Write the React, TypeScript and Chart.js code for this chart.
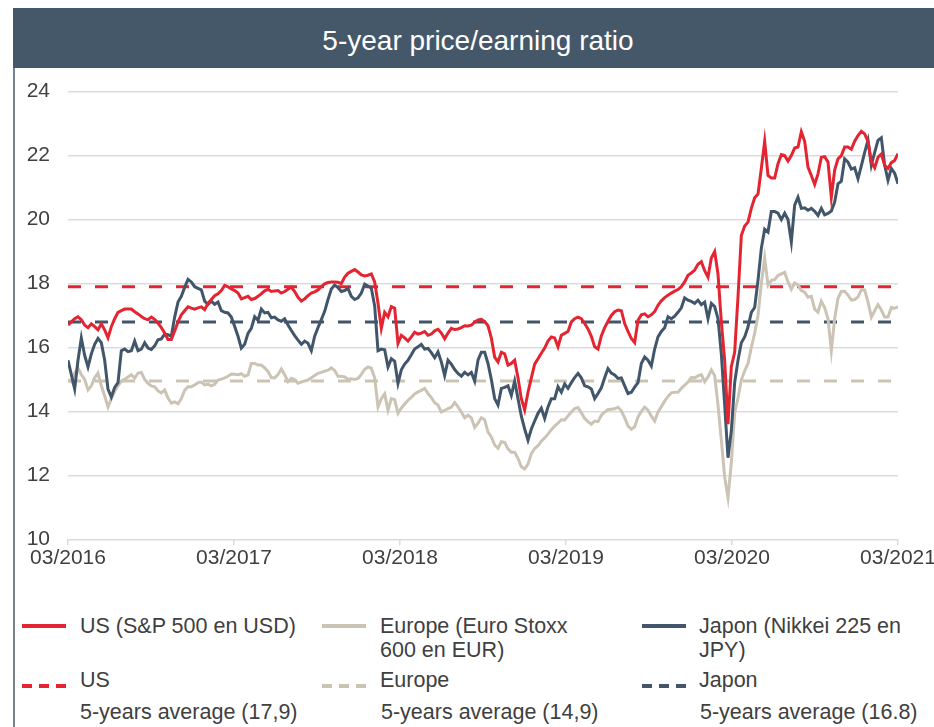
import { useEffect, useRef } from 'react';
import { Chart, registerables } from 'chart.js';

Chart.register(...registerables);

// ---- Data (weekly-ish observations, 03/2016 -> 03/2021) ----
const xTickLabels = ['03/2016', '03/2017', '03/2018', '03/2019', '03/2020', '03/2021'];
const yearsSpan = 5;

const usPE = [
  16.7, 16.8, 16.9, 16.96, 16.87, 16.7, 16.62, 16.74, 16.65, 16.55,
  16.74, 16.55, 16.3, 16.65, 16.9, 17.1, 17.15, 17.2, 17.2, 17.2,
  17.12, 17.05, 16.97, 16.9, 16.87, 16.95, 16.88, 16.76, 16.62, 16.45,
  16.25, 16.25, 16.52, 16.8, 17.02, 17.15, 17.27, 17.23, 17.2, 17.24,
  17.27, 17.18, 17.38, 17.5, 17.62, 17.68, 17.78, 17.94, 17.9, 17.83,
  17.78, 17.7, 17.52, 17.56, 17.6, 17.5, 17.53, 17.6, 17.68, 17.77,
  17.82, 17.75, 17.77, 17.78, 17.7, 17.75, 17.82, 17.89, 17.75, 17.57,
  17.45, 17.52, 17.62, 17.7, 17.74, 17.8, 17.9, 17.99, 18.03, 18.05,
  18.05, 18.04, 18.0, 18.2, 18.32, 18.38, 18.44, 18.36, 18.27, 18.24,
  18.26, 18.3, 18.05, 17.38, 16.6, 17.1, 16.96, 17.28, 17.23, 16.13,
  16.38, 16.3, 16.2, 16.33, 16.48, 16.42, 16.45, 16.5, 16.38, 16.42,
  16.52, 16.57, 16.45, 16.27, 16.45, 16.6, 16.56, 16.58, 16.62, 16.68,
  16.67, 16.7, 16.79, 16.86, 16.88, 16.81, 16.68, 16.3, 15.7, 15.55,
  15.85, 15.8, 15.45, 15.5, 15.6, 15.05, 14.4, 14.05, 14.6, 15.05,
  15.48, 15.65, 15.82, 15.98, 16.2, 16.33, 16.3, 16.02, 16.38, 16.44,
  16.5, 16.8, 16.9, 16.95, 16.9, 16.75, 16.58, 16.35, 16.02, 15.95,
  16.36, 16.62, 16.82, 17.0, 17.12, 17.17, 17.15, 16.75, 16.5, 16.28,
  16.15, 16.85, 17.02, 17.05, 16.96, 17.02, 17.12, 17.32, 17.46, 17.56,
  17.63, 17.7, 17.76, 17.81, 17.9, 18.05, 18.26, 18.33, 18.42, 18.6,
  18.68, 18.4, 18.2, 18.8, 19.0, 18.3, 16.8, 15.6, 13.6, 15.4,
  15.85, 17.58, 19.5, 19.8, 19.92, 20.35, 20.68, 20.8, 21.6, 22.45,
  21.38, 21.3, 21.3, 21.75, 22.03, 22.0, 21.83, 22.0, 22.24, 22.27,
  22.75, 22.45, 21.64, 21.38, 21.1, 21.43, 21.95, 21.97, 21.8, 20.7,
  21.55, 21.9, 22.0, 22.27, 22.27, 22.2, 22.45, 22.63, 22.76, 22.68,
  22.45, 21.8, 21.62, 21.95, 22.05, 21.7, 21.6, 21.78, 21.85, 22.06,
];

const europePE = [
  15.0, 14.93, 15.2, 15.35, 15.15, 15.0, 14.67, 14.8, 15.05, 15.2,
  14.8, 14.48, 14.14, 14.4, 14.63, 14.8, 14.95, 15.0, 15.08, 15.15,
  15.04, 15.2, 15.22, 15.0, 14.88, 14.8, 14.77, 14.64, 14.58, 14.67,
  14.42, 14.26, 14.3, 14.24, 14.4, 14.66, 14.77, 14.77, 14.83, 14.9,
  14.92, 14.83, 14.85, 14.8, 14.85, 14.98, 15.01, 15.05, 15.1, 15.17,
  15.16, 15.15, 15.18, 15.1, 15.14, 15.5, 15.5, 15.45, 15.45, 15.36,
  15.25, 15.06, 15.05, 15.15, 15.33, 15.15, 14.93, 15.04, 15.0, 14.88,
  14.92, 14.95, 14.98, 15.05, 15.12, 15.19, 15.22, 15.26, 15.29, 15.36,
  15.28, 15.1, 15.1, 15.08, 15.0, 15.02, 15.0, 15.03, 15.16, 15.32,
  15.39, 15.35, 15.05, 14.14, 14.4, 14.55, 14.04, 14.4, 14.37, 13.94,
  14.1, 14.23, 14.35, 14.44, 14.55, 14.61, 14.66, 14.72, 14.56, 14.43,
  14.27, 14.2, 13.98, 14.03, 14.09, 14.13, 14.28, 14.14, 13.98, 13.8,
  13.88, 13.8, 13.5, 13.63, 13.8, 13.74, 13.35, 13.2, 12.95, 12.85,
  13.05, 13.03, 12.83, 12.72, 12.72, 12.53, 12.27, 12.2, 12.35, 12.68,
  12.84, 12.93, 13.07, 13.17, 13.29, 13.43, 13.54, 13.63, 13.74, 13.73,
  13.86, 13.98, 14.09, 14.12, 13.96, 13.78, 13.68, 13.6, 13.7, 13.68,
  13.88, 13.98, 14.06, 14.07, 14.08, 14.13, 14.02, 13.8, 13.55, 13.44,
  13.52, 13.83, 14.0, 14.13, 14.04, 13.85, 13.7, 13.98, 14.15, 14.32,
  14.47, 14.58, 14.6, 14.6, 14.72, 14.82, 14.92, 15.06, 15.05, 15.11,
  15.15, 14.93, 15.08, 15.3, 15.12, 14.2, 13.1, 11.95, 11.3, 12.4,
  13.95, 14.42, 14.98, 15.27, 15.5, 16.0, 16.45, 17.0, 18.0, 18.8,
  17.95, 18.1, 18.12, 18.25, 18.3, 18.35, 18.05, 17.82, 18.02, 17.95,
  17.78, 17.73, 17.57, 17.6, 17.2, 17.1, 17.45, 17.25, 16.9, 15.9,
  16.9, 17.54, 17.75, 17.76, 17.64, 17.48, 17.5, 17.58, 17.8, 17.8,
  17.42, 16.95, 17.15, 17.34, 17.17, 16.95, 16.95, 17.25, 17.23, 17.27,
];

const japanPE = [
  15.6, 15.15, 14.7, 15.6, 16.3, 15.75, 15.39, 15.8, 16.1, 16.28,
  16.15, 15.6, 14.7, 14.45, 14.75, 14.9, 15.9, 15.95, 15.87, 15.9,
  16.2, 15.9, 15.95, 16.15, 15.98, 15.94, 16.05, 16.24, 16.27, 16.42,
  16.4, 16.35, 16.95, 17.42, 17.6, 17.88, 18.13, 18.05, 17.9, 17.85,
  17.8, 17.45, 17.35, 17.45, 17.35, 17.42, 17.15, 17.1, 17.08, 16.95,
  16.66, 16.35, 15.98, 16.1, 16.44, 16.6, 16.96, 16.85, 17.2, 17.08,
  17.1, 16.93, 16.95, 16.86, 16.82, 16.9, 16.7, 16.53, 16.37, 16.23,
  16.1, 16.2, 16.13, 15.9, 16.35, 16.62, 16.87, 17.13, 17.5, 17.83,
  17.95, 17.87, 17.75, 17.78, 17.85, 17.6, 17.5, 17.55, 17.7, 17.98,
  17.92, 17.85, 17.3, 15.9, 15.95, 15.93, 15.39, 15.65, 15.57, 14.88,
  15.3, 15.48, 15.6, 15.77, 15.95, 16.02, 16.1, 15.95, 15.97, 15.84,
  15.68, 15.86, 15.55, 15.12, 15.6, 15.48, 15.31, 15.19, 15.1, 15.22,
  15.14, 15.22, 14.95, 15.6, 15.85, 15.85, 15.5, 15.0, 14.4, 14.2,
  14.72, 14.75, 14.8, 14.5, 14.95, 14.4, 13.85, 13.45, 13.1, 13.45,
  13.7, 13.94, 14.1, 13.78, 14.14, 14.4, 14.4, 14.77, 14.6, 14.86,
  14.72, 14.9, 15.06, 15.19, 15.05, 14.8, 14.77, 14.7, 14.4, 14.56,
  14.74, 15.05, 15.34, 15.2, 15.14, 15.03, 15.05, 14.8, 14.56, 14.6,
  14.76, 14.9, 15.5, 15.7, 15.6, 15.42, 15.95, 16.33, 16.5, 16.62,
  16.96, 16.9, 16.98, 17.1, 17.24, 17.55, 17.48, 17.44, 17.38, 17.48,
  17.34, 17.42, 16.9, 17.38, 17.28, 16.9, 15.8, 14.2, 12.55, 13.4,
  14.9, 15.6, 16.15, 16.33, 16.64, 17.1, 17.25, 18.1, 19.1, 19.7,
  19.61, 20.25, 20.25, 20.2, 20.0, 20.2, 20.0, 19.3, 20.45, 20.7,
  20.35, 20.37, 20.29, 20.35, 20.26, 20.13, 20.35, 20.15, 20.19, 20.27,
  20.55, 21.12, 21.2, 21.9, 21.8, 21.58, 21.62, 21.28, 21.68, 22.1,
  22.48, 21.7, 22.1, 22.48, 22.56, 21.7, 21.23, 21.6, 21.45, 21.12,
];

const usAverage = 17.9;
const europeAverage = 14.95;
const japanAverage = 16.8;

// ---- Styling ----
const FONT = '"Liberation Sans", Arial, Helvetica, sans-serif';
const RED = '#e42531';
const BEIGE = '#cbc4b4';
const SLATE = '#41566a';
const TEXT = '#404040';
const GRID = '#dcdcdc';

function toPoints(values: number[]) {
  const n = values.length;
  return values.map((v, i) => ({ x: (i * yearsSpan) / (n - 1), y: v }));
}
function flatLine(v: number) {
  return [
    { x: 0, y: v },
    { x: yearsSpan, y: v },
  ];
}

export default function App() {
  const canvasRef = useRef<HTMLCanvasElement>(null);

  useEffect(() => {
    const canvas = canvasRef.current;
    if (!canvas) return;
    const solid = (label: string, data: any, color: string, order: number) => ({
      label,
      data,
      borderColor: color,
      backgroundColor: color,
      borderWidth: 3,
      pointRadius: 0,
      tension: 0,
      fill: false,
      order,
    });
    const dashed = (label: string, value: number, color: string, order: number) => ({
      label,
      data: flatLine(value),
      borderColor: color,
      backgroundColor: color,
      borderWidth: 3,
      borderDash: [13, 14],
      pointRadius: 0,
      fill: false,
      order,
    });
    const chart = new Chart(canvas, {
      type: 'line',
      data: {
        datasets: [
          solid('US (S&P 500 en USD)', toPoints(usPE), RED, 0),
          solid('Japon (Nikkei 225 en JPY)', toPoints(japanPE), SLATE, 1),
          solid('Europe (Euro Stoxx 600 en EUR)', toPoints(europePE), BEIGE, 2),
          dashed('US 5-years average', usAverage, RED, 3),
          dashed('Japon 5-years average', japanAverage, SLATE, 4),
          dashed('Europe 5-years average', europeAverage, BEIGE, 5),
        ] as any,
      },
      options: {
        animation: false,
        responsive: false,
        maintainAspectRatio: false,
        layout: { padding: { left: 0, right: 36, top: 23.7, bottom: 0 } },
        plugins: {
          legend: { display: false },
          tooltip: { enabled: false },
          title: { display: false },
        },
        elements: { point: { radius: 0 }, line: { tension: 0 } },
        scales: {
          x: {
            type: 'linear',
            min: 0,
            max: yearsSpan,
            ticks: {
              stepSize: 1,
              autoSkip: false,
              maxRotation: 0,
              padding: 0,
              color: TEXT,
              font: { family: FONT, size: 21 },
              callback: (v: any) => xTickLabels[Math.round(Number(v))] ?? '',
            },
            grid: {
              drawOnChartArea: false,
              drawTicks: true,
              tickLength: 6,
              color: GRID,
              lineWidth: 1.5,
            },
            border: { display: false },
            afterFit: (s: any) => {
              s.height = 58.7;
              s.paddingLeft = 0;
              s.paddingRight = 0;
            },
          },
          y: {
            min: 10,
            max: 24,
            ticks: {
              stepSize: 2,
              padding: 18,
              color: TEXT,
              font: { family: FONT, size: 21 },
            },
            grid: { drawTicks: false, color: GRID, lineWidth: 1.5 },
            border: { display: false },
            afterFit: (s: any) => {
              s.width = 53;
              s.paddingTop = 0;
              s.paddingBottom = 0;
            },
          },
        },
      } as any,
    });
    return () => chart.destroy();
  }, []);

  const textStyle = (left: number, top: number): React.CSSProperties => ({
    position: 'absolute',
    left,
    top,
    fontSize: 21.5,
    lineHeight: '24px',
    color: TEXT,
    whiteSpace: 'nowrap',
  });
  const solidIcon = (left: number, color: string): React.CSSProperties => ({
    position: 'absolute',
    left,
    top: 624,
    width: 44,
    height: 4,
    background: color,
  });
  const dashIcon = (left: number, color: string) => (
    <div style={{ position: 'absolute', left, top: 684, width: 44, height: 4 }}>
      {[0, 17, 34].map((o) => (
        <div key={o} style={{ position: 'absolute', left: o, top: 0, width: 10, height: 4, background: color }} />
      ))}
    </div>
  );

  return (
    <div
      style={{
        position: 'absolute',
        left: 0,
        top: 0,
        width: 934,
        height: 727,
        overflow: 'hidden',
        background: '#ffffff',
        fontFamily: FONT,
      }}
    >
      <div
        style={{
          position: 'absolute',
          left: 13,
          top: 8,
          width: 921,
          height: 60,
          boxSizing: 'border-box',
          paddingLeft: 9,
          paddingTop: 6,
          background: '#44586a',
          color: '#ffffff',
          fontSize: 28,
          display: 'flex',
          alignItems: 'center',
          justifyContent: 'center',
        }}
      >
        5-year price/earning ratio
      </div>
      <div style={{ position: 'absolute', left: 13, top: 68, width: 2, height: 659, background: '#75838f' }} />
      <canvas
        ref={canvasRef}
        width={919}
        height={530}
        style={{ position: 'absolute', left: 15, top: 68, width: 919, height: 530 }}
      />

      {/* Legend row 1 */}
      <div style={solidIcon(22, RED)} />
      <div style={textStyle(80, 614)}>US (S&amp;P 500 en USD)</div>
      <div style={solidIcon(322, BEIGE)} />
      <div style={textStyle(380, 614)}>
        Europe (Euro Stoxx
        <br />
        600 en EUR)
      </div>
      <div style={solidIcon(642, SLATE)} />
      <div style={textStyle(699, 614)}>
        Japon (Nikkei 225 en
        <br />
        JPY)
      </div>

      {/* Legend row 2 */}
      {dashIcon(22, RED)}
      <div style={textStyle(80, 668)}>US</div>
      {dashIcon(322, BEIGE)}
      <div style={textStyle(380, 668)}>Europe</div>
      {dashIcon(642, SLATE)}
      <div style={textStyle(699, 668)}>Japon</div>

      <div style={textStyle(80, 700)}>5-years average (17,9)</div>
      <div style={textStyle(381, 700)}>5-years average (14,9)</div>
      <div style={textStyle(700, 700)}>5-years average (16.8)</div>
    </div>
  );
}
